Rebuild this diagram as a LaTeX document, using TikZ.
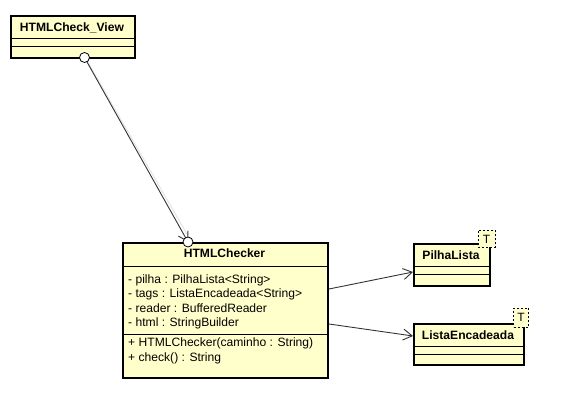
\documentclass[tikz,border=0pt]{standalone}
\usepackage{fontspec}
\setmainfont{Liberation Sans}
\usetikzlibrary{arrows.meta,calc}
\definecolor{clsfill}{HTML}{FFFFCC}
\definecolor{conn}{HTML}{333333}
\tikzset{
  clsbox/.style={draw=black, line width=2pt, fill=clsfill, inner sep=0pt, anchor=north west},
  sepline/.style={draw=black, line width=1pt},
  clsname/.style={font=\fontsize{12.1}{14}\selectfont\bfseries, inner sep=0pt, anchor=base},
  member/.style={font=\fontsize{12.1}{14}\selectfont, inner sep=0pt, anchor=base west},
  tparam/.style={draw=black, dashed, dash pattern=on 2pt off 2pt, line width=1pt, fill=clsfill, inner sep=0pt, anchor=north west, font=\fontsize{12}{14}\selectfont},
  assoc/.style={draw=conn, line width=0.9pt, -{Straight Barb[length=9pt,width=11pt,line width=0.9pt]}},
  shadowline/.style={draw=black!10, line width=1pt},
  endcircle/.style={circle, draw=black, line width=0.8pt, fill=white, minimum size=10pt, inner sep=0pt}
}
\begin{document}
\begin{tikzpicture}[x=1pt,y=-1pt]
\useasboundingbox (0,0) rectangle (561,419);
\fill[white] (0,0) rectangle (561,419);

% HTMLCheck_View
\node[clsbox, minimum width=124pt, minimum height=42pt] (view) at (10,15) {};
\node[clsname] (viewname) at (72,31.5) {HTMLCheck\_View};
\draw[sepline] (view.west |- 0,39) -- (view.east |- 0,39);
\draw[sepline] (view.west |- 0,47) -- (view.east |- 0,47);

% HTMLChecker
\node[clsbox, minimum width=205pt, minimum height=135pt] (checker) at (122,242) {};
\node[clsname] (checkername) at (224.5,257) {HTMLChecker};
\draw[sepline] (checker.west |- 0,266.5) -- (checker.east |- 0,266.5);
\draw[sepline] (checker.west |- 0,334.5) -- (checker.east |- 0,334.5);
\node[member] (a1) at (128,283) {- pilha : PilhaLista<String>};
\node[member] (a2) at (128,297.5) {- tags : ListaEncadeada<String>};
\node[member] (a3) at (128,312) {- reader : BufferedReader};
\node[member] (a4) at (128,326.5) {- html : StringBuilder};
\node[member] (m1) at (128,346.7) {+ HTMLChecker(caminho : String)};
\node[member] (m2) at (128,361) {+ check() : String};

% PilhaLista
\node[clsbox, minimum width=76pt, minimum height=42pt] (pilha) at (413,243) {};
\node[clsname] (pilhaname) at (451,259) {PilhaLista};
\draw[sepline] (pilha.west |- 0,266) -- (pilha.east |- 0,266);
\draw[sepline] (pilha.west |- 0,274) -- (pilha.east |- 0,274);
\node[tparam, minimum width=17pt, minimum height=17pt] (pilhaT) at (477.5,230) {T};

% ListaEncadeada
\node[clsbox, minimum width=110pt, minimum height=41pt] (lista) at (413,322.5) {};
\node[clsname] (listaname) at (468,339) {ListaEncadeada};
\draw[sepline] (lista.west |- 0,346.5) -- (lista.east |- 0,346.5);
\draw[sepline] (lista.west |- 0,354.5) -- (lista.east |- 0,354.5);
\node[tparam, minimum width=15pt, minimum height=19pt] (listaT) at (513,307.5) {T};

% connectors
\coordinate (vstart) at (84.5,57.5);
\coordinate (cend) at (188,242);
\draw[shadowline] ($(vstart)+(1.2,1)$) -- ($(cend)+(1.2,-4)$);
\draw[assoc] (vstart) -- (cend);
\node[endcircle] (c1) at (vstart) {};
\node[endcircle] (c2) at (cend) {};

\coordinate (p1) at (checker.east |- 0,289);
\coordinate (p2) at (pilha.west |- 0,272);
\draw[assoc] (p1) -- (p2);
\coordinate (l1) at (checker.east |- 0,324);
\coordinate (l2) at (lista.west |- 0,336);
\draw[assoc] (l1) -- (l2);
\end{tikzpicture}
\end{document}
